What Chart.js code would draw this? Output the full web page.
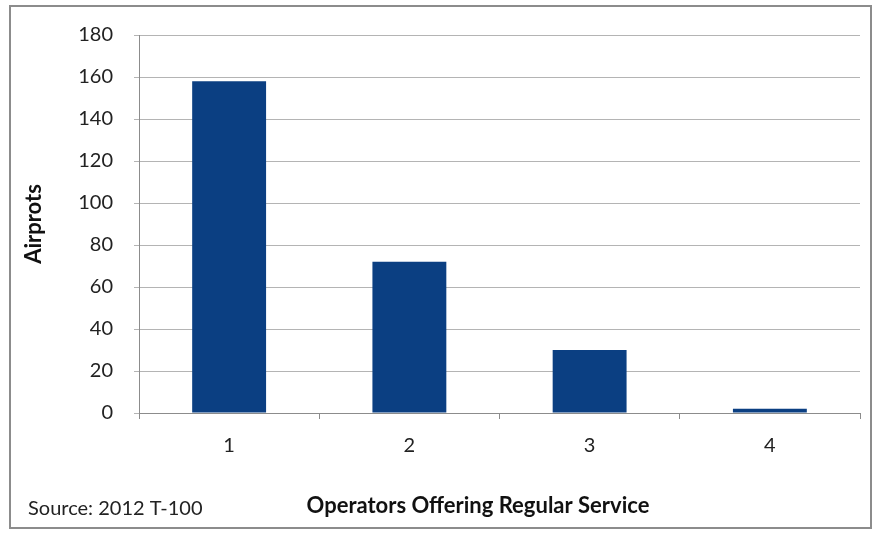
<!DOCTYPE html>
<html>
<head>
<meta charset="utf-8">
<title>Airports by number of operators</title>
<script src="https://cdn.jsdelivr.net/npm/chart.js@4/dist/chart.umd.min.js"></script>
<style>
  html, body { margin: 0; padding: 0; background: #fff; }
  #frame {
    position: absolute; left: 9px; top: 5px;
    width: 859px; height: 520px;
    border: 2px solid #8c8c8c;
  }
  #frame canvas { display: block; }
</style>
</head>
<body>
<div id="frame"><canvas id="operatorsChart" width="859" height="520"></canvas></div>
<script>
// operators offering regular service -> number of airports
let operatorCounts = ["1", "2", "3", "4"];
let airportCounts = [158, 72, 30, 2];
let yTicks = [0, 20, 40, 60, 80, 100, 120, 140, 160, 180];

let fontFamily = "Lato, 'Open Sans', sans-serif";

// source note and x axis title share the bottom line, centred on the whole chart
let bottomTexts = {
  id: "bottomTexts",
  afterDraw: function (chart) {
    let ctx = chart.ctx;
    ctx.save();
    ctx.fillStyle = "#222";
    ctx.textBaseline = "middle";
    ctx.font = "20px " + fontFamily;
    ctx.textAlign = "left";
    ctx.fillText("Source: 2012 T-100", 17, 502);
    ctx.fillStyle = "#111";
    ctx.font = "bold 22px " + fontFamily;
    ctx.textAlign = "center";
    ctx.fillText("Operators Offering Regular Service", 467, 499);
    ctx.restore();
  }
};

let ctx = document.getElementById("operatorsChart").getContext("2d");
let myChart = new Chart(ctx, {
  type: "bar",
  data: {
    labels: operatorCounts,
    datasets: [
      {
        label: "Airprots",
        data: airportCounts,
        backgroundColor: "#0b3f82",
        borderWidth: 0,
        barPercentage: 0.41,
        categoryPercentage: 1.0
      }
    ]
  },
  options: {
    responsive: false,
    animation: false,
    layout: {
      padding: { left: 0, right: 10, top: 28, bottom: 0 }
    },
    plugins: {
      legend: { display: false },
      tooltip: { enabled: false }
    },
    scales: {
      x: {
        afterFit: function (axis) { axis.height = 114; },
        grid: {
          display: true,
          offset: true,
          drawOnChartArea: false,
          drawTicks: true,
          tickLength: 6,
          color: "#8c8c8c"
        },
        border: { color: "#8c8c8c", width: 1 },
        ticks: {
          color: "#222",
          padding: 15,
          font: { family: fontFamily, size: 20 }
        }
      },
      y: {
        min: 0,
        max: 180,
        afterBuildTicks: function (axis) {
          axis.ticks = yTicks.map(function (v) { return { value: v }; });
        },
        afterFit: function (axis) {
          axis.width = 128;
          axis.paddingTop = 0;
          axis.paddingBottom = 0;
        },
        grid: {
          color: "#b4b4b4",
          tickLength: 5
        },
        border: { color: "#8c8c8c", width: 1 },
        ticks: {
          color: "#222",
          padding: 21,
          font: { family: fontFamily, size: 20 }
        },
        title: {
          display: true,
          text: "Airprots",
          color: "#111",
          padding: { top: 10, bottom: 0 },
          font: { family: fontFamily, size: 22, weight: "bold" }
        }
      }
    }
  },
  plugins: [bottomTexts]
});
</script>
</body>
</html>
